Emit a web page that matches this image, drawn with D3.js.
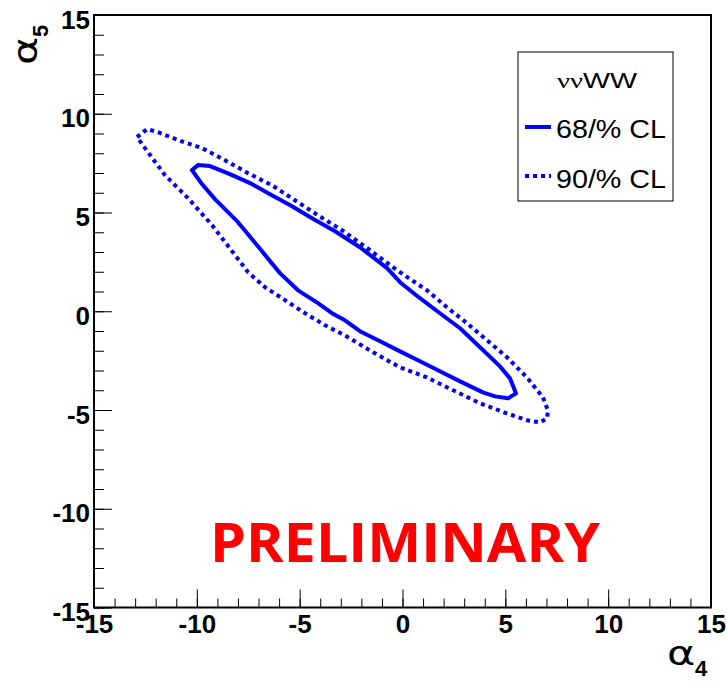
<!DOCTYPE html>
<html>
<head>
<meta charset="utf-8">
<script src="https://cdn.jsdelivr.net/npm/d3@7"></script>
<style>
  html, body { margin: 0; padding: 0; background: #fff; }
  svg { display: block; }
</style>
</head>
<body>
<svg id="chart" width="727" height="682"></svg>
<script>
// Confidence-level contours in the (alpha4, alpha5) plane
const cl68 = [
  [-10.24, 7.15], [-9.94, 7.40], [-9.36, 7.35], [-8.39, 6.94], [-7.41, 6.49],
  [-6.44, 5.93], [-5.37, 5.32], [-4.40, 4.71], [-3.28, 4.05], [-2.07, 3.24],
  [-0.75, 2.18], [-0.12, 1.47], [0.85, 0.66], [1.82, -0.10], [2.80, -0.86],
  [3.77, -1.82], [4.74, -2.79], [5.23, -3.40], [5.52, -4.16], [5.13, -4.41],
  [4.50, -4.31], [3.91, -4.11], [2.80, -3.55], [1.82, -3.04], [0.85, -2.53],
  [-0.12, -2.03], [-1.09, -1.52], [-2.07, -1.01], [-2.80, -0.46], [-3.43, -0.10],
  [-4.11, 0.41], [-5.08, 1.06], [-5.96, 1.93], [-7.03, 3.29], [-8.00, 4.51],
  [-9.12, 5.68], [-9.75, 6.44]
];
const cl90 = [
  [-12.91, 8.82], [-12.42, 9.22], [-11.89, 9.07], [-10.92, 8.67], [-9.75, 8.26],
  [-8.63, 7.65], [-7.51, 6.99], [-6.35, 6.38], [-5.23, 5.62], [-4.11, 4.86],
  [-2.94, 4.10], [-1.58, 3.09], [-0.27, 2.08], [1.19, 1.06], [2.16, 0.20],
  [3.14, -0.61], [4.11, -1.47], [5.08, -2.33], [6.05, -3.35], [6.83, -4.36],
  [7.07, -5.02], [7.03, -5.42], [6.69, -5.63], [6.05, -5.52], [5.08, -5.17],
  [3.77, -4.66], [2.46, -4.00], [1.19, -3.35], [-0.12, -2.84], [-1.43, -2.08],
  [-2.80, -1.22], [-3.77, -0.71], [-4.74, -0.10], [-5.71, 0.56], [-6.69, 1.22],
  [-7.51, 1.98], [-8.14, 2.84], [-9.26, 4.36], [-10.43, 5.73], [-11.55, 6.89],
  [-12.52, 8.26]
];

const axisDomain = [-15, 15];
const majorTicks = [-15, -10, -5, 0, 5, 10, 15];
const minorTicks = [-15, -14, -13, -12, -11, -10, -9, -8, -7, -6, -5, -4, -3, -2, -1,
  0, 1, 2, 3, 4, 5, 6, 7, 8, 9, 10, 11, 12, 13, 14, 15];
const legendTitle = ["\u03BD\u03BD", "WW"];
const legendLabels = ["68/% CL", "90/% CL"];
const axisTitles = { x: ["\u03B1", "4"], y: ["\u03B1", "5"] };
const watermark = "PRELIMINARY";

const svg = d3.select("#chart");
const frame = { left: 94, right: 711, top: 15, bottom: 607.5 };

const x = d3.scaleLinear().domain(axisDomain).range([frame.left, frame.right]);
const y = d3.scaleLinear().domain(axisDomain).range([frame.bottom, frame.top]);

const blue = "#0000ff";
const labelFont = "'Liberation Sans', Arial, Helvetica, sans-serif";
const greekFont = "'DejaVu Sans', sans-serif";
const plainNumber = d => String(d);

// Minor ticks
svg.append("g")
  .attr("transform", `translate(0,${frame.bottom})`)
  .call(d3.axisBottom(x).tickValues(minorTicks).tickSize(-9).tickFormat(""))
  .call(g => g.select(".domain").remove())
  .call(g => g.selectAll("line").attr("stroke", "#000").attr("stroke-width", 1));
svg.append("g")
  .attr("transform", `translate(${frame.left},0)`)
  .call(d3.axisLeft(y).tickValues(minorTicks).tickSize(-10).tickFormat(""))
  .call(g => g.select(".domain").remove())
  .call(g => g.selectAll("line").attr("stroke", "#000").attr("stroke-width", 1));

// Major ticks with labels
svg.append("g")
  .attr("transform", `translate(0,${frame.bottom})`)
  .call(d3.axisBottom(x).tickValues(majorTicks).tickSize(-18).tickPadding(7).tickFormat(plainNumber))
  .call(g => g.select(".domain").remove())
  .call(g => g.selectAll("line").attr("stroke", "#000").attr("stroke-width", 1))
  .call(g => g.selectAll("text")
    .attr("font-family", labelFont).attr("font-weight", "bold")
    .attr("font-size", 26).attr("fill", "#000"));
svg.append("g")
  .attr("transform", `translate(${frame.left},0)`)
  .call(d3.axisLeft(y).tickValues(majorTicks).tickSize(-18).tickPadding(4).tickFormat(plainNumber))
  .call(g => g.select(".domain").remove())
  .call(g => g.selectAll("line").attr("stroke", "#000").attr("stroke-width", 1))
  .call(g => g.selectAll("text")
    .attr("font-family", labelFont).attr("font-weight", "bold")
    .attr("font-size", 26).attr("fill", "#000").attr("dy", "0.5em"));

// Frame
svg.append("rect")
  .attr("x", frame.left).attr("y", frame.top)
  .attr("width", frame.right - frame.left).attr("height", frame.bottom - frame.top)
  .attr("fill", "none").attr("stroke", "#000").attr("stroke-width", 2);

// Contours
const contour = d3.line()
  .x(d => x(d[0])).y(d => y(d[1]))
  .curve(d3.curveLinearClosed);

svg.append("path")
  .attr("d", contour(cl90))
  .attr("fill", "none").attr("stroke", blue)
  .attr("stroke-width", 4).attr("stroke-dasharray", "4,4");
svg.append("path")
  .attr("d", contour(cl68))
  .attr("fill", "none").attr("stroke", blue)
  .attr("stroke-width", 4).attr("stroke-linejoin", "round");

// Axis titles: a wide greek letter with a bold subscript
function axisTitle(parts, transform) {
  const g = svg.append("g").attr("transform", transform);
  g.append("text")
    .attr("transform", "scale(1.3,1)")
    .attr("font-family", greekFont).attr("font-size", 33)
    .attr("fill", "#000").text(parts[0]);
  g.append("text")
    .attr("x", 28).attr("y", 11)
    .attr("font-family", labelFont).attr("font-weight", "bold")
    .attr("font-size", 22).attr("fill", "#000").text(parts[1]);
}
axisTitle(axisTitles.x, "translate(667,665)");
axisTitle(axisTitles.y, "translate(37,65) rotate(-90)");

// Legend
const lg = svg.append("g");
lg.append("rect")
  .attr("x", 518).attr("y", 52).attr("width", 155).attr("height", 149)
  .attr("fill", "#fff").attr("stroke", "#000").attr("stroke-width", 1);
const title = lg.append("text")
  .attr("x", 557).attr("y", 88)
  .attr("font-size", 22).attr("fill", "#000")
  .attr("textLength", 80).attr("lengthAdjust", "spacingAndGlyphs");
title.append("tspan").attr("font-family", "'Liberation Serif', serif").text(legendTitle[0]);
title.append("tspan").attr("font-family", labelFont).text(legendTitle[1]);

const legendRows = [
  { label: legendLabels[0], ly: 127, ty: 138, dash: null },
  { label: legendLabels[1], ly: 176, ty: 188, dash: "4,4" }
];
legendRows.forEach(r => {
  lg.append("line")
    .attr("x1", 525).attr("x2", 551).attr("y1", r.ly).attr("y2", r.ly)
    .attr("stroke", blue).attr("stroke-width", 4)
    .attr("stroke-dasharray", r.dash);
  lg.append("text")
    .attr("x", 556).attr("y", r.ty)
    .attr("font-family", labelFont).attr("font-size", 25)
    .attr("textLength", 110).attr("lengthAdjust", "spacingAndGlyphs")
    .attr("fill", "#000").text(r.label);
});

// Watermark
svg.append("text")
  .attr("x", 210).attr("y", 562)
  .attr("font-family", "'Open Sans', 'DejaVu Sans', sans-serif")
  .attr("font-weight", "bold").attr("font-size", 53)
  .attr("fill", "#ff0000")
  .attr("textLength", 390).attr("lengthAdjust", "spacingAndGlyphs")
  .text(watermark);
</script>
</body>
</html>
